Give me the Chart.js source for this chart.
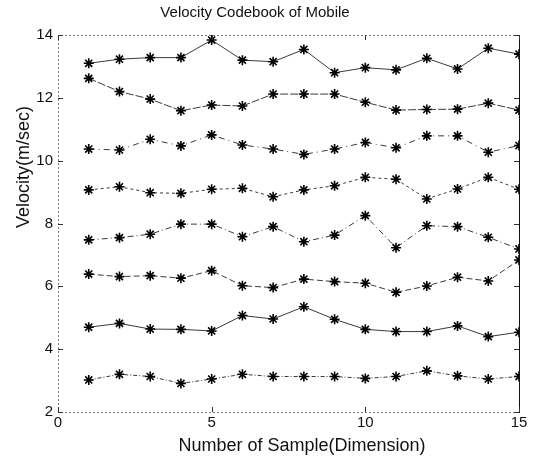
<!DOCTYPE html>
<html>
<head>
<meta charset="utf-8">
<script src="https://cdn.jsdelivr.net/npm/chart.js@4.4.1/dist/chart.umd.min.js"></script>
<style>
    html, body { margin: 0; padding: 0; background: #fff; overflow: hidden; }
    canvas { display: block; }
</style>
</head>
<body>
<canvas id="codebookChart" width="536" height="467"></canvas>
<script>
// số mẫu (trục x)
const sampleIdx = [1, 2, 3, 4, 5, 6, 7, 8, 9, 10, 11, 12, 13, 14, 15];
// tick
const xTicks = [0, 5, 10, 15];
const yTicks = [2, 4, 6, 8, 10, 12, 14];
// các codeword vận tốc (m/sec)
const code1 = [13.10, 13.23, 13.28, 13.28, 13.84, 13.20, 13.15, 13.54, 12.80, 12.96, 12.89, 13.26, 12.92, 13.58, 13.39];
const code2 = [12.62, 12.20, 11.96, 11.59, 11.77, 11.74, 12.12, 12.12, 12.12, 11.86, 11.61, 11.63, 11.64, 11.83, 11.61];
const code3 = [10.37, 10.34, 10.68, 10.47, 10.82, 10.50, 10.37, 10.20, 10.37, 10.58, 10.41, 10.79, 10.79, 10.27, 10.48];
const code4 = [9.07, 9.17, 8.98, 8.96, 9.09, 9.12, 8.85, 9.07, 9.20, 9.47, 9.41, 8.78, 9.10, 9.47, 9.09];
const code5 = [7.48, 7.55, 7.66, 7.98, 7.98, 7.58, 7.90, 7.42, 7.63, 8.25, 7.23, 7.93, 7.90, 7.56, 7.19];
const code6 = [6.39, 6.31, 6.34, 6.26, 6.50, 6.02, 5.96, 6.23, 6.15, 6.10, 5.81, 6.01, 6.29, 6.17, 6.84];
const code7 = [4.70, 4.82, 4.64, 4.63, 4.58, 5.07, 4.96, 5.35, 4.95, 4.63, 4.56, 4.56, 4.74, 4.40, 4.54];
const code8 = [3.02, 3.20, 3.13, 2.91, 3.05, 3.20, 3.13, 3.13, 3.13, 3.07, 3.13, 3.31, 3.15, 3.05, 3.13];

const allCodes = [code1, code2, code3, code4, code5, code6, code7, code8];
const dashes = [[], [8, 2], [6, 4, 1, 4], [3, 3], [6, 3, 1, 3], [6, 3], [], [4, 2, 1, 2]];

const FONT = "'Liberation Sans', Arial, sans-serif";

// khung kiểu matlab + tick hướng vào trong + chữ
const matlabBox = {
    id: 'matlabBox',
    afterDraw(chart) {
        const {ctx, chartArea: a, scales: {x, y}} = chart;
        ctx.save();
        // viền
        ctx.lineWidth = 1;
        ctx.strokeStyle = '#777';
        ctx.setLineDash([2, 2]);
        ctx.beginPath();
        ctx.moveTo(a.right, a.top + 0.5);
        ctx.lineTo(a.left + 0.5, a.top + 0.5);
        ctx.lineTo(a.left + 0.5, a.bottom + 0.5);
        ctx.lineTo(a.right, a.bottom + 0.5);
        ctx.stroke();
        ctx.setLineDash([]);
        ctx.strokeStyle = '#111';
        ctx.beginPath();
        ctx.moveTo(a.right + 0.5, a.top);
        ctx.lineTo(a.right + 0.5, a.bottom + 1);
        ctx.stroke();
        // tick
        ctx.strokeStyle = '#333';
        ctx.beginPath();
        xTicks.forEach(v => {
            const px = Math.round(x.getPixelForValue(v)) + 0.5;
            ctx.moveTo(px, a.bottom); ctx.lineTo(px, a.bottom - 5);
            ctx.moveTo(px, a.top); ctx.lineTo(px, a.top + 5);
        });
        yTicks.forEach(v => {
            const py = Math.round(y.getPixelForValue(v)) + 0.5;
            ctx.moveTo(a.left, py); ctx.lineTo(a.left + 5, py);
            ctx.moveTo(a.right, py); ctx.lineTo(a.right - 5, py);
        });
        ctx.stroke();
        // tiêu đề
        ctx.fillStyle = '#111';
        ctx.textAlign = 'center';
        ctx.textBaseline = 'middle';
        ctx.font = '15px ' + FONT;
        ctx.fillText('Velocity Codebook of Mobile', 255, 13);
        ctx.font = '18px ' + FONT;
        ctx.fillText('Number of Sample(Dimension)', 302, 446);
        ctx.translate(24, 167);
        ctx.rotate(-Math.PI / 2);
        ctx.fillText('Velocity(m/sec)', 0, 0);
        ctx.restore();
    }
};

document.addEventListener('DOMContentLoaded', () => {
    const ctx = document.getElementById('codebookChart');
    new Chart(ctx, {
        type: 'line',
        data: {
            datasets: allCodes.map((vals, i) => ({
                label: 'codeword ' + (i + 1),
                data: sampleIdx.map((s, k) => ({x: s, y: vals[k]})),
                borderColor: '#3a3a3a',
                borderWidth: 1,
                borderDash: dashes[i],
                pointStyle: 'star',
                pointRadius: 5,
                pointBorderWidth: 1.6,
                pointBorderColor: '#000',
                pointBackgroundColor: '#000',
                tension: 0
            }))
        },
        options: {
            responsive: false,
            animation: false,
            events: [],
            layout: {padding: {top: 35, right: 17, left: 0, bottom: 0}},
            scales: {
                x: {
                    type: 'linear', min: 0, max: 15,
                    afterBuildTicks: s => { s.ticks = xTicks.map(v => ({value: v})); },
                    afterFit: s => { s.height = 55; },
                    grid: {display: false, drawTicks: false},
                    border: {display: false},
                    ticks: {color: '#111', padding: 2, font: {family: FONT, size: 15}}
                },
                y: {
                    min: 2, max: 14,
                    afterBuildTicks: s => { s.ticks = yTicks.map(v => ({value: v})); },
                    afterFit: s => { s.width = 58; },
                    grid: {display: false, drawTicks: false},
                    border: {display: false},
                    ticks: {color: '#111', padding: 5, font: {family: FONT, size: 15}}
                }
            },
            plugins: {legend: {display: false}, tooltip: {enabled: false}}
        },
        plugins: [matlabBox]
    });
});
</script>
</body>
</html>
